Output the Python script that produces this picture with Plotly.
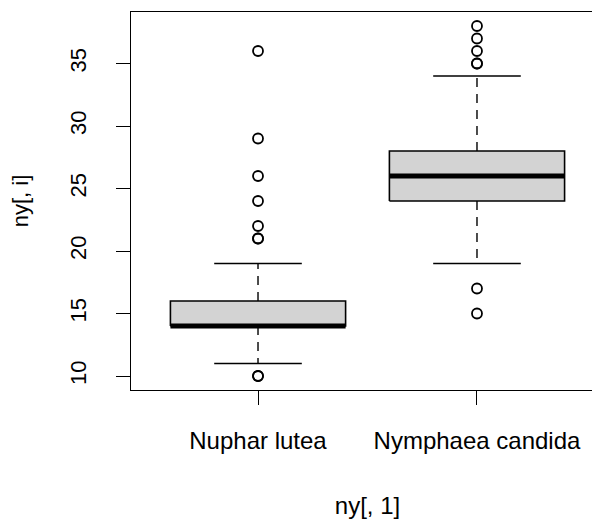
import plotly.graph_objects as go

categories = ["Nuphar lutea", "Nymphaea candida"]
q1 = [14, 24]
median = [14, 26]
q3 = [16, 28]
whisker_low = [11, 19]
whisker_high = [19, 34]
outliers = [
    [10, 10, 21, 21, 22, 24, 26, 29, 36],
    [15, 17, 35, 35, 36, 37, 38],
]
y_ticks = [10, 15, 20, 25, 30, 35]

BOX_HALF = 0.4
STAPLE_HALF = 0.2
LINE = "black"

fig = go.Figure()
for i, name in enumerate(categories):
    x = i + 1
    # whiskers (dashed)
    fig.add_trace(go.Scatter(x=[x, x], y=[q3[i], whisker_high[i]], mode="lines",
                             line=dict(color=LINE, width=1.4, dash="9px,7px"), hoverinfo="skip"))
    fig.add_trace(go.Scatter(x=[x, x], y=[q1[i], whisker_low[i]], mode="lines",
                             line=dict(color=LINE, width=1.4, dash="9px,7px"), hoverinfo="skip"))
    # staples
    for w in (whisker_low[i], whisker_high[i]):
        fig.add_trace(go.Scatter(x=[x - STAPLE_HALF, x + STAPLE_HALF], y=[w, w], mode="lines",
                                 line=dict(color=LINE, width=1.4), hoverinfo="skip"))
    # box
    fig.add_trace(go.Scatter(
        x=[x - BOX_HALF, x + BOX_HALF, x + BOX_HALF, x - BOX_HALF, x - BOX_HALF],
        y=[q1[i], q1[i], q3[i], q3[i], q1[i]],
        mode="lines", fill="toself", fillcolor="#d3d3d3",
        line=dict(color=LINE, width=1.6), hoverinfo="skip"))
    # median
    fig.add_trace(go.Scatter(x=[x - BOX_HALF, x + BOX_HALF], y=[median[i], median[i]], mode="lines",
                             line=dict(color=LINE, width=5), hoverinfo="skip"))
    # outliers
    fig.add_trace(go.Scatter(x=[x] * len(outliers[i]), y=outliers[i], mode="markers",
                             marker=dict(symbol="circle-open", size=10, color=LINE,
                                         line=dict(width=1.8, color=LINE)),
                             hoverinfo="skip"))

fig.update_layout(
    width=600, height=520,
    margin=dict(l=123, r=4, t=4, b=138),
    paper_bgcolor="white", plot_bgcolor="white",
    showlegend=False,
    font=dict(family="Liberation Sans, Arial, sans-serif", color="black", size=22),
)
fig.update_xaxes(
    range=[0.42, 2.58], tickmode="array", tickvals=[1, 2], ticktext=categories,
    ticks="outside", ticklen=14, tickwidth=1.3, tickcolor=LINE,
    showline=True, linecolor=LINE, linewidth=1.3, mirror=True,
    showgrid=False, zeroline=False, tickfont=dict(size=24), ticklabelstandoff=15,
    title=dict(text="ny[, 1]", font=dict(size=24), standoff=44),
)
fig.update_yaxes(
    range=[8.88, 39.12], tickmode="array", tickvals=y_ticks,
    ticks="outside", ticklen=14, tickwidth=1.3, tickcolor=LINE, tickangle=-90,
    showline=True, linecolor=LINE, linewidth=1.3, mirror=False,
    showgrid=False, zeroline=False, tickfont=dict(size=22), ticklabelstandoff=21,
    title=dict(text="ny[, i]", font=dict(size=22), standoff=33),
)

fig.write_html("out.html")
